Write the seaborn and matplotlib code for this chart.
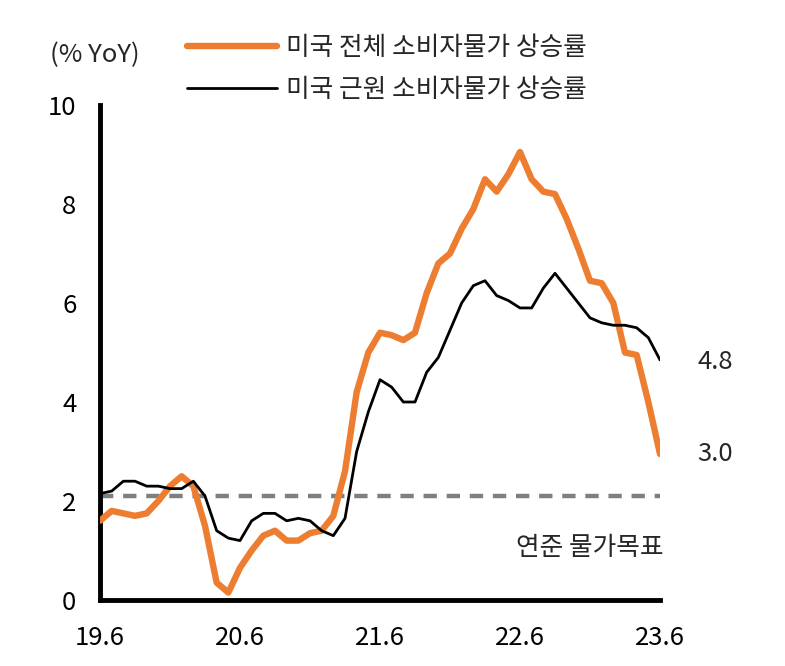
import numpy as np
import pandas as pd
import matplotlib
matplotlib.use("Agg")
import matplotlib.pyplot as plt
import seaborn as sns

# monthly, 2019.6 ~ 2023.6
months = pd.period_range("2019-06", "2023-06", freq="M").strftime("%y.%m").tolist()
cpi_all = [1.6, 1.8, 1.75, 1.7, 1.75, 2.0, 2.3,
           2.5, 2.3, 1.5, 0.35, 0.15, 0.65, 1.0, 1.3, 1.4, 1.2, 1.2, 1.35,
           1.4, 1.7, 2.6, 4.2, 5.0, 5.4, 5.35, 5.25, 5.4, 6.2, 6.8, 7.0,
           7.5, 7.9, 8.5, 8.25, 8.6, 9.05, 8.5, 8.25, 8.2, 7.7, 7.1, 6.45,
           6.4, 6.0, 5.0, 4.95, 4.0, 2.95]
cpi_core = [2.15, 2.2, 2.4, 2.4, 2.3, 2.3, 2.25,
            2.25, 2.4, 2.1, 1.4, 1.25, 1.2, 1.6, 1.75, 1.75, 1.6, 1.65, 1.6,
            1.4, 1.3, 1.65, 3.0, 3.8, 4.45, 4.3, 4.0, 4.0, 4.6, 4.9, 5.45,
            6.0, 6.35, 6.45, 6.15, 6.05, 5.9, 5.9, 6.3, 6.6, 6.3, 6.0, 5.7,
            5.6, 5.55, 5.55, 5.5, 5.3, 4.85]
fed_target = 2.1
xtick_labels = ["19.6", "20.6", "21.6", "22.6", "23.6"]

df = pd.DataFrame({"t": np.arange(len(months)), "month": months,
                   "all": cpi_all, "core": cpi_core})

sns.set_style("white")
plt.rcParams["font.family"] = ["Noto Sans CJK KR", "DejaVu Sans"]
FS = 18.5

fig = plt.figure(figsize=(7.85, 6.66), dpi=100)
ax = fig.add_axes([100 / 785, 66 / 666, 560 / 785, 495 / 666])

ax.axhline(fed_target, color="#7f7f7f", lw=3.2, ls=(0, (3, 2.2)), zorder=1)
sns.lineplot(data=df, x="t", y="all", ax=ax, color="#ED7D31", lw=4.6,
             label="미국 전체 소비자물가 상승률", legend=False, zorder=3)
sns.lineplot(data=df, x="t", y="core", ax=ax, color="black", lw=2.0,
             label="미국 근원 소비자물가 상승률", legend=False, zorder=4)

ax.set_xlim(0, 48)
ax.set_ylim(0, 10)
ax.set_xticks(np.arange(0, 49, 12))
ax.set_xticklabels(xtick_labels)
ax.set_yticks(np.arange(0, 11, 2))
ax.set_xlabel("")
ax.set_ylabel("")
for s in ["top", "right"]:
    ax.spines[s].set_visible(False)
for s in ["left", "bottom"]:
    ax.spines[s].set_linewidth(3.5)
    ax.spines[s].set_color("black")
ax.tick_params(axis="both", direction="in", length=8, width=3, labelsize=FS,
               colors="black")
ax.tick_params(axis="x", pad=18)
ax.tick_params(axis="y", pad=17)
for lab in ax.get_xticklabels() + ax.get_yticklabels():
    lab.set_fontweight("light")

ax.text(52.7, cpi_core[-1] - 0.05, f"{cpi_core[-1]:.1f}", fontsize=FS,
        va="center", ha="center", fontweight="light", clip_on=False)
ax.text(52.7, cpi_all[-1] + 0.0, f"{cpi_all[-1]:.1f}", fontsize=FS,
        va="center", ha="center", fontweight="light", clip_on=False)
ax.text(48.3, 1.05, "연준 물가목표", fontsize=FS, ha="right", va="center",
        fontweight="light")

fig.text(95 / 785, 1 - 55 / 666, "(% YoY)", fontsize=FS, ha="center",
         va="center", fontweight="light")

handles, labels = ax.get_legend_handles_labels()
fig.legend(handles, labels, loc="upper left",
           bbox_to_anchor=(164 / 785, 1 - 12 / 666), frameon=False,
           handlelength=3.5, handletextpad=0.35, labelspacing=0.62,
           prop={"weight": "light", "size": FS})

fig.savefig("out.png", dpi=100)
